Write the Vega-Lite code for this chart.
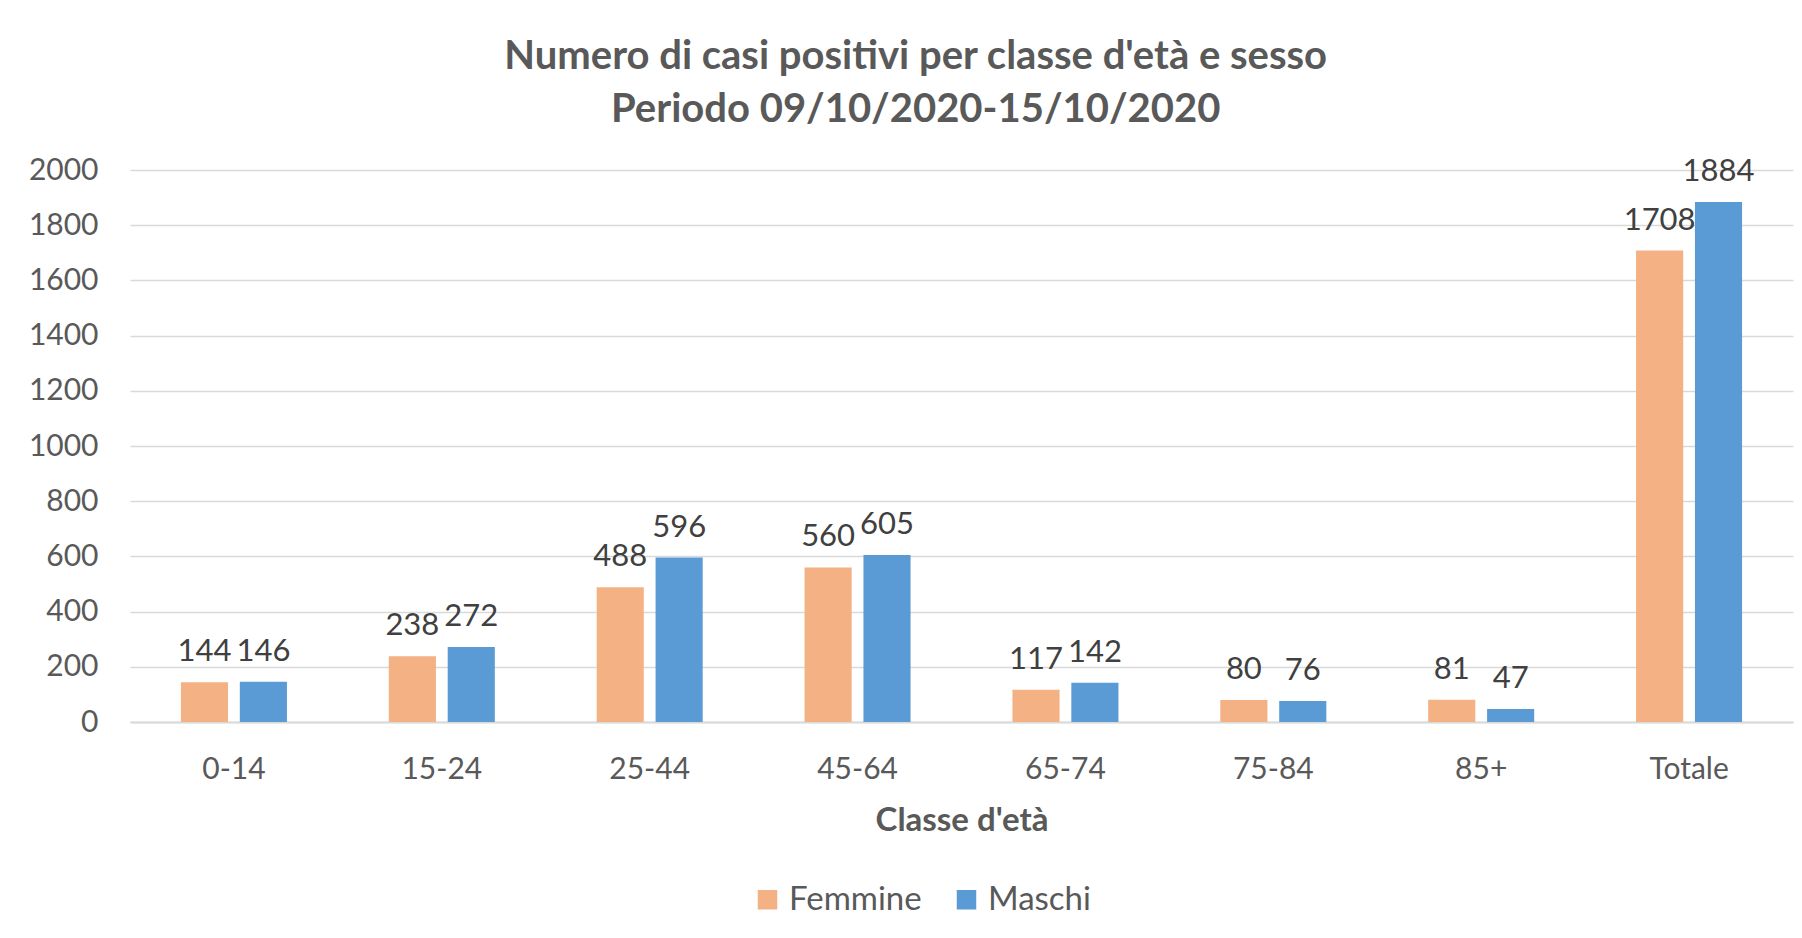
{
  "$schema": "https://vega.github.io/schema/vega-lite/v6.json",
  "width": 1663,
  "height": 552,
  "autosize": {"type": "none"},
  "padding": {"left": 130, "top": 170, "right": 9, "bottom": 216},
  "background": "white",
  "title": {
    "text": ["Numero di casi positivi per classe d'età e sesso", "Periodo 09/10/2020-15/10/2020"],
    "font": "Lato",
    "fontSize": 40,
    "fontWeight": "bold",
    "color": "#595959",
    "lineHeight": 53,
    "anchor": "middle",
    "frame": "bounds",
    "dx": 5,
    "offset": 25
  },
  "data": {
    "values": [
      {"classe": "0-14", "sesso": "Femmine", "casi": 144},
      {"classe": "0-14", "sesso": "Maschi", "casi": 146},
      {"classe": "15-24", "sesso": "Femmine", "casi": 238},
      {"classe": "15-24", "sesso": "Maschi", "casi": 272},
      {"classe": "25-44", "sesso": "Femmine", "casi": 488},
      {"classe": "25-44", "sesso": "Maschi", "casi": 596},
      {"classe": "45-64", "sesso": "Femmine", "casi": 560},
      {"classe": "45-64", "sesso": "Maschi", "casi": 605},
      {"classe": "65-74", "sesso": "Femmine", "casi": 117},
      {"classe": "65-74", "sesso": "Maschi", "casi": 142},
      {"classe": "75-84", "sesso": "Femmine", "casi": 80},
      {"classe": "75-84", "sesso": "Maschi", "casi": 76},
      {"classe": "85+", "sesso": "Femmine", "casi": 81},
      {"classe": "85+", "sesso": "Maschi", "casi": 47},
      {"classe": "Totale", "sesso": "Femmine", "casi": 1708},
      {"classe": "Totale", "sesso": "Maschi", "casi": 1884}
    ]
  },
  "encoding": {
    "x": {
      "field": "classe",
      "type": "nominal",
      "sort": null,
      "scale": {"paddingInner": 0.49, "paddingOuter": 0.245},
      "axis": {
        "title": "Classe d'età",
        "labelAngle": 0,
        "labelFont": "Lato",
        "labelFontSize": 30,
        "labelColor": "#595959",
        "labelPadding": 32,
        "ticks": false,
        "domainColor": "#D9D9D9",
        "domainWidth": 2,
        "titleFont": "Lato",
        "titleFontSize": 33,
        "titleFontWeight": "bold",
        "titleColor": "#595959",
        "titlePadding": 20
      }
    },
    "xOffset": {
      "field": "sesso",
      "type": "nominal",
      "scale": {"paddingInner": 0.2, "paddingOuter": 0}
    },
    "y": {
      "field": "casi",
      "type": "quantitative",
      "scale": {"domain": [0, 2000]},
      "axis": {
        "title": null,
        "format": "d",
        "values": [0, 200, 400, 600, 800, 1000, 1200, 1400, 1600, 1800, 2000],
        "labelFont": "Lato",
        "labelFontSize": 30,
        "labelColor": "#595959",
        "labelPadding": 32,
        "ticks": false,
        "domain": false,
        "gridColor": "#D9D9D9",
        "gridWidth": 1.5
      }
    },
    "color": {
      "field": "sesso",
      "type": "nominal",
      "scale": {"domain": ["Femmine", "Maschi"], "range": ["#F4B183", "#5B9BD5"]},
      "legend": {
        "title": null,
        "orient": "none",
        "direction": "horizontal",
        "legendX": 621,
        "legendY": 713,
        "symbolType": "square",
        "symbolSize": 380,
        "symbolStrokeWidth": 0,
        "labelFont": "Lato",
        "labelFontSize": 33,
        "labelColor": "#595959",
        "labelOffset": 5,
        "columnPadding": 28
      }
    }
  },
  "layer": [
    {"mark": {"type": "bar"}},
    {
      "mark": {"type": "text", "baseline": "alphabetic", "dy": -21, "font": "Lato", "fontSize": 31, "color": "#404040"},
      "encoding": {"text": {"field": "casi", "type": "quantitative"}, "color": {"value": "#404040"}}
    }
  ],
  "config": {"view": {"stroke": null}}
}
